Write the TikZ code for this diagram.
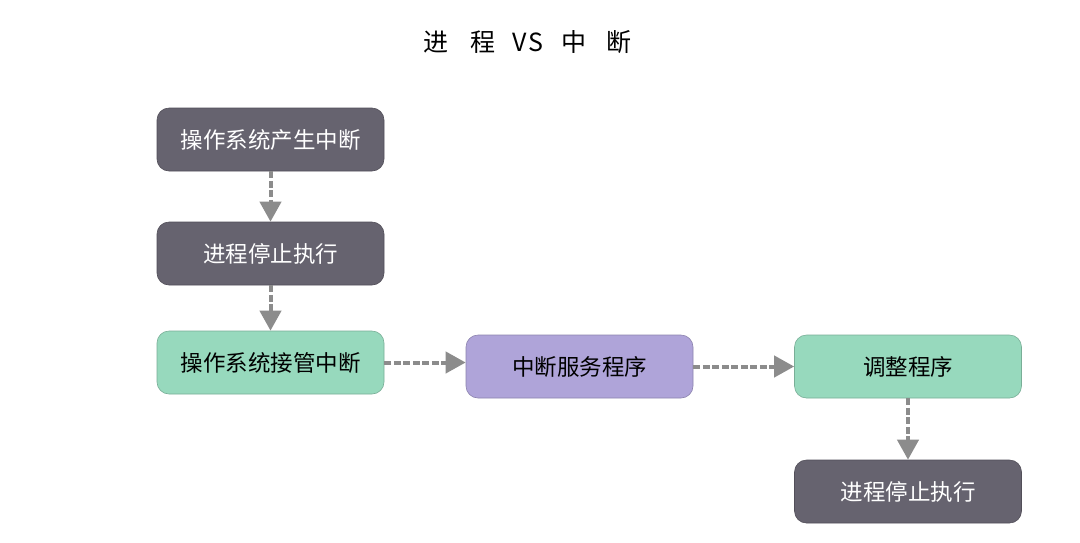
\documentclass[tikz,border=0pt]{standalone}
\usepackage{fontspec}
\newfontfamily\cjk{Noto Sans CJK SC}
\usetikzlibrary{arrows.meta}
\definecolor{darkbox}{HTML}{66636F}
\definecolor{greenbox}{HTML}{97D9BD}
\definecolor{purplebox}{HTML}{AFA4D9}
\definecolor{arrowgray}{HTML}{8C8C8C}
\tikzset{
  box/.style={rounded corners=12pt, minimum width=227pt, minimum height=63pt, inner sep=0pt, font=\cjk\fontsize{22.5pt}{26pt}\selectfont, draw=#1!80!black, line width=0.6pt},
  darkb/.style={box=darkbox, fill=darkbox, text=white},
  greenb/.style={box=greenbox, fill=greenbox, text=black},
  purpleb/.style={box=purplebox, fill=purplebox, text=black},
  flow/.style={draw=arrowgray, line width=4pt, dash pattern=on 7pt off 2.5pt, -{Triangle[length=20pt,width=21pt,fill=arrowgray]}, shorten >=0pt}
}
\begin{document}
\begin{tikzpicture}[x=1pt,y=-1pt]
\useasboundingbox[fill=white] (0,0) rectangle (1080,542);
\node[font=\cjk\fontsize{25pt}{28pt}\selectfont] (title) at (527.5,42) {进\hspace{22pt}程\hspace{17pt}V\hspace{2pt}S\hspace{18pt}中\hspace{20pt}断};
\node[darkb] (b1) at (270.5,139.5) {操作系统产生中断};
\node[darkb] (b2) at (270.5,253.5) {进程停止执行};
\node[greenb] (b3) at (270.5,362.5) {操作系统接管中断};
\node[purpleb] (b4) at (579.5,366.5) {中断服务程序};
\node[greenb] (b5) at (908,366.5) {调整程序};
\node[darkb] (b6) at (908,491.5) {进程停止执行};
\draw[flow] (b1.south) -- (b2.north);
\draw[flow] (b2.south) -- (b3.north);
\draw[flow] (b3.east) -- (b4.west |- b3.east);
\draw[flow] (b4.east) -- (b5.west);
\draw[flow] (b5.south) -- (b6.north);
\end{tikzpicture}
\end{document}
